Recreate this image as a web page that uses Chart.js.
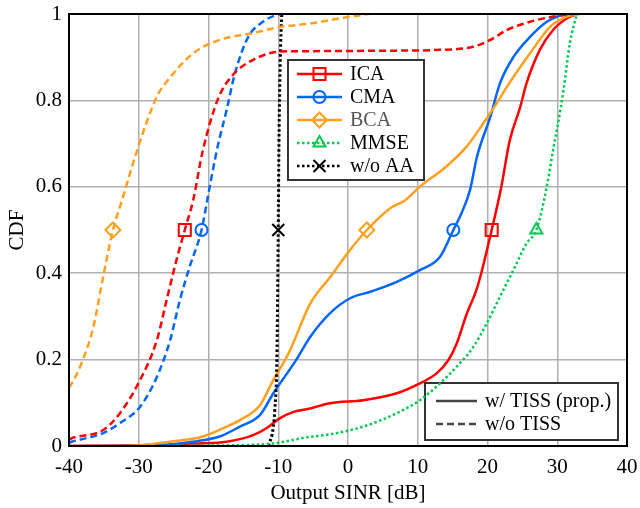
<!DOCTYPE html>
<html>
<head>
<meta charset="utf-8">
<script src="https://cdn.jsdelivr.net/npm/chart.js@4/dist/chart.umd.min.js"></script>
<style>
    html, body { margin: 0; padding: 0; background: #fff; }
    canvas { display: block; }
</style>
</head>
<body>
<canvas id="cdf-chart" width="640" height="508"></canvas>
<script>
// axis ticks
const xTicks = [-40, -30, -20, -10, 0, 10, 20, 30, 40];
const xTickLabels = ['-40', '-30', '-20', '-10', '0', '10', '20', '30', '40'];
const yTicks = [0, 0.2, 0.4, 0.6, 0.8, 1];
const yTickLabels = ['0', '0.2', '0.4', '0.6', '0.8', '1'];

const methods = ['ICA', 'CMA', 'BCA', 'MMSE', 'w/o AA'];
const lineStyles = ['w/ TISS (prop.)', 'w/o TISS'];

// ICA w/ TISS
const icaTissX = [-40, -30, -22, -17.4, -13.6, -11.7, -9.8, -7.8, -5.4, -2.6, 2.2, 7, 10.3, 12.7, 14.4, 15.6, 17, 18.4, 19.1, 20.6, 21.9, 23.2, 24.7, 25.6, 27.5, 29.4, 31.4, 32.8];
const icaTissY = [0, 0.002, 0.006, 0.01, 0.025, 0.041, 0.064, 0.079, 0.087, 0.099, 0.106, 0.122, 0.145, 0.168, 0.199, 0.238, 0.305, 0.361, 0.4, 0.5, 0.593, 0.708, 0.785, 0.84, 0.917, 0.963, 0.99, 1];
// ICA w/o TISS
const icaNoTissX = [-40, -39.6, -35.1, -32.7, -29.8, -27.4, -26, -24.6, -23.4, -22.2, -20.8, -18.6, -16.5, -13.6, -9.7, -5.4, 5, 13.2, 17.9, 20.4, 22.8, 26.1, 29.4, 32.3];
const icaNoTissY = [0.015, 0.018, 0.037, 0.076, 0.153, 0.245, 0.338, 0.43, 0.5, 0.569, 0.685, 0.805, 0.859, 0.894, 0.913, 0.914, 0.915, 0.917, 0.924, 0.94, 0.963, 0.982, 0.994, 1];

// CMA w/ TISS
const cmaTissX = [-40, -28.4, -22.2, -18.4, -15.5, -12.6, -10.7, -7.4, -5.4, -2.6, 0.3, 3.2, 7, 10.3, 13.2, 15.1, 16.3, 17.5, 18.5, 20.4, 21.8, 23.7, 26.1, 28.5, 30.8, 31.5];
const cmaTissY = [0, 0, 0.01, 0.022, 0.045, 0.072, 0.122, 0.2, 0.253, 0.307, 0.342, 0.357, 0.38, 0.407, 0.438, 0.5, 0.54, 0.593, 0.67, 0.762, 0.84, 0.9, 0.947, 0.982, 0.998, 1];
// CMA w/o TISS
const cmaNoTissX = [-40, -39.6, -35.1, -32.7, -29.8, -27.4, -25.5, -24.1, -22.7, -21, -20, -18.8, -17.4, -16.2, -14.3, -12.2, -10.2, -9.5];
const cmaNoTissY = [0.008, 0.01, 0.03, 0.053, 0.091, 0.16, 0.245, 0.338, 0.415, 0.5, 0.585, 0.685, 0.778, 0.863, 0.947, 0.982, 0.998, 1];

// BCA w/ TISS
const bcaTissX = [-40, -31.7, -25.5, -20.8, -17.4, -15.5, -12.6, -10.7, -9, -8.3, -5.4, -2.6, 0.3, 2.7, 6, 8.2, 10.3, 14.1, 17, 19.4, 21.3, 22.8, 26.1, 29, 31.4, 33.3];
const bcaTissY = [0, 0, 0.01, 0.022, 0.045, 0.06, 0.095, 0.153, 0.2, 0.222, 0.33, 0.39, 0.454, 0.5, 0.55, 0.569, 0.6, 0.647, 0.693, 0.747, 0.793, 0.832, 0.909, 0.971, 0.994, 1];
// BCA w/o TISS
const bcaNoTissX = [-40, -39.6, -38.4, -36.5, -35.1, -33.7, -32.4, -30.2, -27.4, -26, -22.2, -18.4, -13.6, -9.7, -5.4, 0, 3];
const bcaNoTissY = [0.135, 0.145, 0.184, 0.276, 0.392, 0.5, 0.569, 0.686, 0.809, 0.843, 0.909, 0.94, 0.956, 0.97, 0.978, 0.993, 1];

// MMSE
const mmseX = [-31, -15.5, -10.7, -5.9, -2.6, 2.2, 7, 10.3, 13.2, 15.6, 18, 19.9, 21.8, 23.7, 25.6, 27, 28.5, 29.4, 30.2, 30.9, 31.8, 32.8];
const mmseY = [0, 0.002, 0.006, 0.02, 0.027, 0.045, 0.076, 0.106, 0.145, 0.184, 0.23, 0.284, 0.346, 0.407, 0.469, 0.5, 0.6, 0.685, 0.755, 0.824, 0.932, 1];

// w/o AA
const noAaX = [-11.4, -10.7, -10.5, -10.2, -10, -9.9, -9.7, -9.5];
const noAaY = [0, 0.045, 0.083, 0.2, 0.5, 0.7, 0.9, 1];

// marker positions (median of each curve)
const markerLevel = 0.5;
const icaMarkX = [-23.4, 20.6];
const cmaMarkX = [-21, 15.1];
const bcaMarkX = [-33.7, 2.7];
const mmseMarkX = [27];
const noAaMarkX = [-10];

const RED = '#ff0000';
const BLUE = '#0066ff';
const ORANGE = '#ffa020';
const GREEN = '#00c850';
const BLACK = '#000000';
const DASH = [7, 4];
const DOT = [2.5, 2.5];
const FONT = 'Liberation Serif, Times New Roman, serif';

function pts(xs, ys) {
    return xs.map((x, i) => ({ x: x, y: ys[i] }));
}

function curve(xs, ys, color, dash, width) {
    return {
        data: pts(xs, ys),
        borderColor: color,
        borderWidth: width || 2.5,
        borderDash: dash || [],
        pointRadius: 0,
        fill: false,
        cubicInterpolationMode: 'monotone'
    };
}

function marks(xs, color, style, radius) {
    return {
        data: xs.map(x => ({ x: x, y: markerLevel })),
        showLine: false,
        pointStyle: style,
        pointRadius: radius,
        pointBorderWidth: 2,
        borderColor: color,
        pointBorderColor: color,
        pointBackgroundColor: 'rgba(0,0,0,0)'
    };
}

const legendItems = [
    { color: RED, dash: [], style: 'rect', radius: 8.5, text: BLACK },
    { color: BLUE, dash: [], style: 'circle', radius: 6, text: BLACK },
    { color: ORANGE, dash: [], style: 'rectRot', radius: 7.5, text: '#555555' },
    { color: GREEN, dash: DOT, style: 'triangle', radius: 7, text: BLACK },
    { color: BLACK, dash: DOT, style: 'crossRot', radius: 8.5, text: BLACK }
];

function drawMethodLegend(ctx) {
    ctx.save();
    ctx.fillStyle = '#fff';
    ctx.fillRect(288, 60, 136, 120);
    ctx.strokeStyle = '#333';
    ctx.lineWidth = 2;
    ctx.strokeRect(288, 60, 136, 120);
    ctx.font = '20px ' + FONT;
    ctx.textBaseline = 'middle';
    legendItems.forEach((item, i) => {
        const y = 74 + i * 23;
        ctx.strokeStyle = item.color;
        ctx.lineWidth = 2.5;
        ctx.setLineDash(item.dash);
        ctx.beginPath();
        ctx.moveTo(297, y);
        ctx.lineTo(342, y);
        ctx.stroke();
        ctx.setLineDash([]);
        ctx.lineWidth = 2;
        ctx.fillStyle = 'rgba(0,0,0,0)';
        Chart.helpers.drawPoint(ctx, { pointStyle: item.style, radius: item.radius, borderWidth: 2, rotation: 0 }, 319.5, y);
        ctx.fillStyle = item.text;
        ctx.fillText(methods[i], 350, y + 1);
    });
    ctx.restore();
}

function drawStyleLegend(ctx) {
    ctx.save();
    ctx.fillStyle = '#fff';
    ctx.fillRect(425, 383, 193, 57);
    ctx.strokeStyle = '#333';
    ctx.lineWidth = 2;
    ctx.strokeRect(425, 383, 193, 57);
    ctx.font = '20px ' + FONT;
    ctx.textBaseline = 'middle';
    [[], DASH].forEach((dash, i) => {
        const y = 401 + i * 23;
        ctx.strokeStyle = '#444';
        ctx.lineWidth = 2.5;
        ctx.setLineDash(dash);
        ctx.beginPath();
        ctx.moveTo(436, y);
        ctx.lineTo(477, y);
        ctx.stroke();
        ctx.setLineDash([]);
        ctx.fillStyle = BLACK;
        ctx.fillText(lineStyles[i], 485, y + 1);
    });
    ctx.restore();
}

const legendPlugin = {
    id: 'legendPlugin',
    beforeDatasetsDraw(chart) {
        drawStyleLegend(chart.ctx);
    },
    afterDatasetsDraw(chart) {
        drawMethodLegend(chart.ctx);
        const a = chart.chartArea;
        const ctx = chart.ctx;
        ctx.save();
        ctx.strokeStyle = BLACK;
        ctx.lineWidth = 2;
        ctx.strokeRect(a.left, a.top, a.right - a.left, a.bottom - a.top);
        ctx.restore();
    }
};

document.addEventListener('DOMContentLoaded', function() {
    const ctx = document.getElementById('cdf-chart').getContext('2d');
    new Chart(ctx, {
        type: 'line',
        data: {
            datasets: [
                curve(icaNoTissX, icaNoTissY, RED, DASH),
                curve(cmaNoTissX, cmaNoTissY, BLUE, DASH),
                curve(bcaNoTissX, bcaNoTissY, ORANGE, DASH),
                curve(mmseX, mmseY, GREEN, DOT),
                curve(noAaX, noAaY, BLACK, DOT, 3),
                curve(bcaTissX, bcaTissY, ORANGE),
                curve(cmaTissX, cmaTissY, BLUE),
                curve(icaTissX, icaTissY, RED),
                marks(icaMarkX, RED, 'rect', 8.5),
                marks(cmaMarkX, BLUE, 'circle', 6),
                marks(bcaMarkX, ORANGE, 'rectRot', 7.5),
                marks(mmseMarkX, GREEN, 'triangle', 7),
                marks(noAaMarkX, BLACK, 'crossRot', 8.5)
            ]
        },
        options: {
            responsive: false,
            animation: false,
            layout: { padding: { left: 0, right: 13, top: 14, bottom: 0 } },
            plugins: {
                legend: { display: false },
                tooltip: { enabled: false }
            },
            scales: {
                x: {
                    type: 'linear',
                    min: -40,
                    max: 40,
                    afterBuildTicks: s => { s.ticks = xTicks.map(v => ({ value: v })); },
                    afterFit: s => { s.height = 62; s.paddingLeft = 0; s.paddingRight = 0; },
                    ticks: {
                        color: BLACK,
                        font: { family: FONT, size: 21 },
                        padding: 9,
                        maxRotation: 0,
                        autoSkip: false,
                        callback: (v) => xTickLabels[xTicks.indexOf(v)]
                    },
                    grid: { color: '#b0b0b0', lineWidth: 1.5, drawTicks: false },
                    border: { display: false },
                    title: {
                        display: true,
                        text: 'Output SINR [dB]',
                        color: BLACK,
                        font: { family: FONT, size: 21 },
                        padding: { top: 0, bottom: 2 }
                    }
                },
                y: {
                    min: 0,
                    max: 1,
                    afterBuildTicks: s => { s.ticks = yTicks.map(v => ({ value: v })); },
                    afterFit: s => { s.width = 69; s.paddingTop = 0; s.paddingBottom = 0; },
                    ticks: {
                        color: BLACK,
                        font: { family: FONT, size: 21 },
                        padding: 7,
                        autoSkip: false,
                        callback: (v) => yTickLabels[yTicks.indexOf(v)]
                    },
                    grid: { color: '#b0b0b0', lineWidth: 1.5, drawTicks: false },
                    border: { display: false },
                    title: {
                        display: true,
                        text: 'CDF',
                        color: BLACK,
                        font: { family: FONT, size: 21 },
                        padding: { top: 5, bottom: 0 }
                    }
                }
            }
        },
        plugins: [legendPlugin]
    });
});
</script>
</body>
</html>
